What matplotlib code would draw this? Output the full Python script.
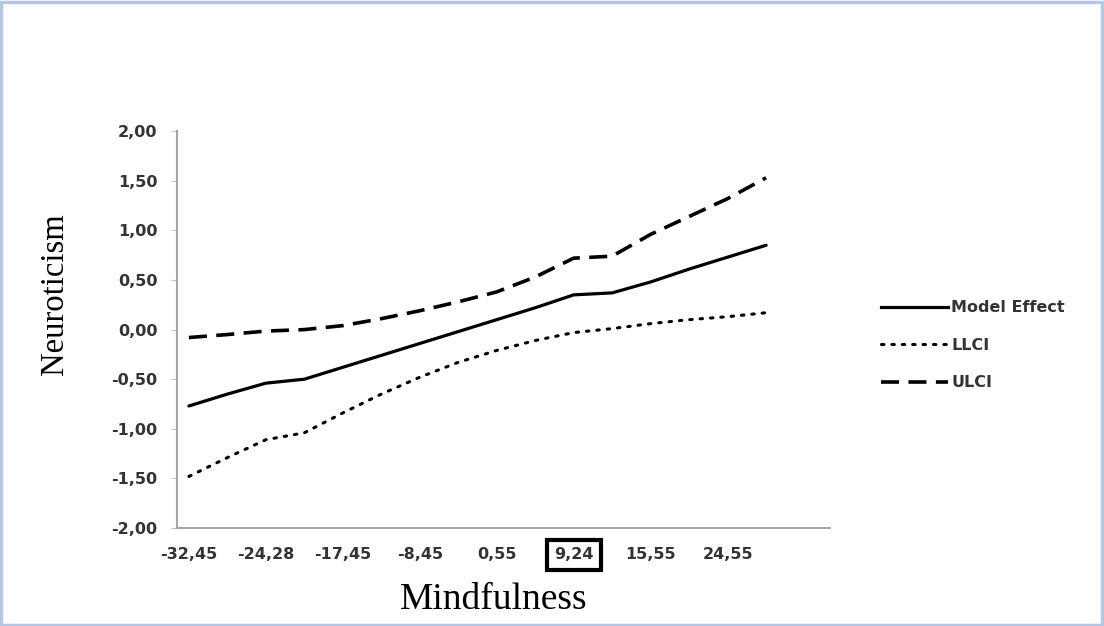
import numpy as np
import matplotlib
matplotlib.use("Agg")
import matplotlib.pyplot as plt
from matplotlib.patches import Rectangle
from matplotlib.lines import Line2D

# 16 points along the moderator, labels shown on every second one
x_labels = ["-32,45", "-24,28", "-17,45", "-8,45", "0,55", "9,24", "15,55", "24,55"]
model_effect = [-0.77, -0.65, -0.54, -0.50, -0.38, -0.26, -0.14, -0.02,
                0.10, 0.22, 0.35, 0.37, 0.48, 0.61, 0.73, 0.85]
llci = [-1.48, -1.29, -1.11, -1.04, -0.84, -0.65, -0.48, -0.33,
        -0.21, -0.11, -0.03, 0.01, 0.06, 0.10, 0.13, 0.17]
ulci = [-0.08, -0.05, -0.015, 0.0, 0.04, 0.11, 0.19, 0.28,
        0.38, 0.53, 0.72, 0.74, 0.96, 1.14, 1.32, 1.53]
y_ticks = [-2.0, -1.5, -1.0, -0.5, 0.0, 0.5, 1.0, 1.5, 2.0]
y_labels = ["-2,00", "-1,50", "-1,00", "-0,50", "0,00", "0,50", "1,00", "1,50", "2,00"]

x = np.arange(len(model_effect))
txt_col = "#333333"
tick_font = {"family": "DejaVu Sans", "weight": "bold", "size": 11.5}

fig = plt.figure(figsize=(11.04, 6.26), dpi=100)
ax = fig.add_axes([0.1603, 0.1565, 0.5915, 0.634])

ax.plot(x, model_effect, color="black", lw=2.3, solid_capstyle="round")
ax.plot(x, llci, color="black", lw=2.2, linestyle=(0, (0.8, 2.6)), dash_capstyle="round")
ax.plot(x, ulci, color="black", lw=2.6, linestyle=(0, (5, 2.6)))

ax.set_xlim(-0.31, 16.66)
ax.set_ylim(-2, 2)
ax.set_xticks(x[::2])
ax.set_xticklabels(x_labels, fontdict=tick_font, color=txt_col)
ax.set_yticks(y_ticks)
ax.set_yticklabels(y_labels, fontdict=tick_font, color=txt_col)

for s in ["top", "right"]:
    ax.spines[s].set_visible(False)
for s in ["left", "bottom"]:
    ax.spines[s].set_color("#a6a6a6")
    ax.spines[s].set_linewidth(1.5)

ax.tick_params(axis="x", length=0, pad=14)
ax.tick_params(axis="y", length=4, color="#bfbfbf", pad=10)

box_lab = ax.get_xticklabels()[5]
box_lab.set_bbox(dict(facecolor="none", edgecolor="black", linewidth=3,
                      boxstyle="square,pad=0.45"))

fig.text(0.447, 0.042, "Mindfulness", family="Liberation Serif", fontsize=27,
         ha="center", va="center")
fig.text(0.05, 0.53, "Neuroticism", family="Liberation Serif", fontsize=23.5,
         ha="center", va="center", rotation=90)

handles = [Line2D([], [], color="black", lw=2.3),
           Line2D([], [], color="black", lw=2.2, linestyle=(0, (0.8, 2.6)), dash_capstyle="round"),
           Line2D([], [], color="black", lw=2.6, linestyle=(0, (5, 2.6)))]
leg = fig.legend(handles, ["Model Effect", "LLCI", "ULCI"], loc="upper left",
                 bbox_to_anchor=(0.785, 0.543), frameon=False, handlelength=4.2,
                 handletextpad=0.2, labelspacing=1.4,
                 prop={"family": "DejaVu Sans", "weight": "bold", "size": 11.5})
for t in leg.get_texts():
    t.set_color(txt_col)

# light blue frame round the picture
fig.patches.append(Rectangle((0.001, 0.002), 0.997, 0.995, transform=fig.transFigure,
                             fill=False, edgecolor="#b4c7e7", linewidth=2.5))

fig.savefig("out.png", dpi=100)
